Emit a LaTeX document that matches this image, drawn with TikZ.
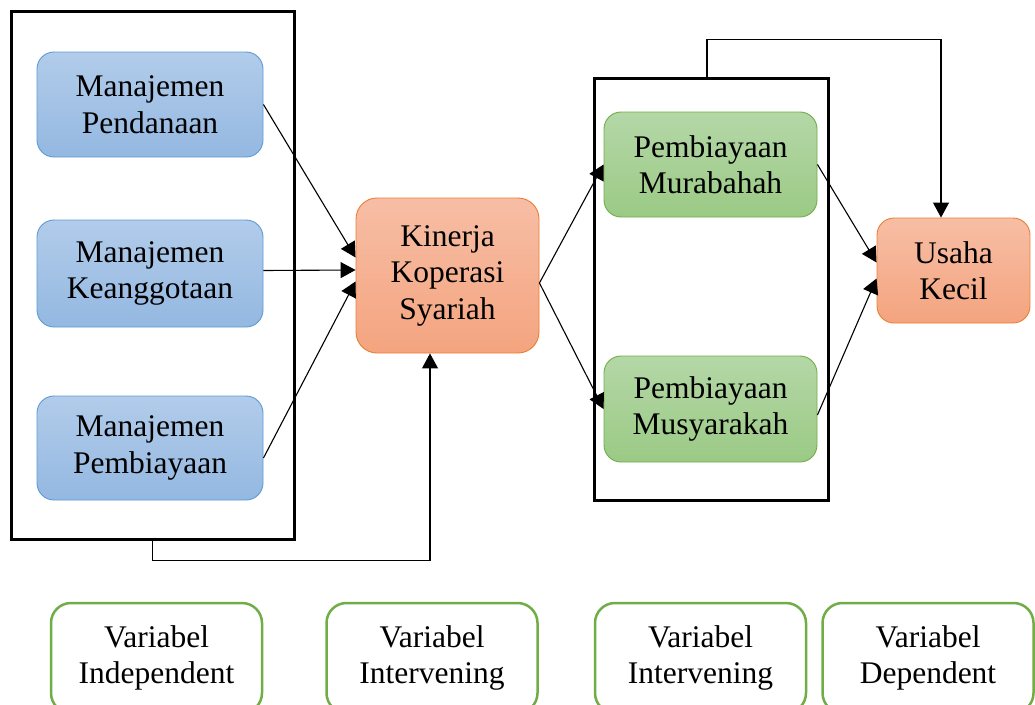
\documentclass[tikz,border=0pt]{standalone}
\usepackage{fontspec}
\setmainfont{Liberation Serif}
\usetikzlibrary{arrows.meta,calc}

\definecolor{bluetop}{HTML}{B2CCEA}
\definecolor{bluebot}{HTML}{94B8E1}
\definecolor{blueline}{HTML}{5B9BD5}
\definecolor{orangetop}{HTML}{F7BEA5}
\definecolor{orangebot}{HTML}{F4A47F}
\definecolor{orangeline}{HTML}{ED7D31}
\definecolor{greentop}{HTML}{B4D7A7}
\definecolor{greenbot}{HTML}{9BCA85}
\definecolor{greenline}{HTML}{70AD47}

\begin{document}
\begin{tikzpicture}[x=1pt,y=-1pt,
  txt/.style={align=center, inner sep=0pt, font=\fontsize{31.5}{36.5}\selectfont},
  roundbox/.style={txt, rounded corners=17pt, line width=0.9pt},
  bluebox/.style={roundbox, draw=blueline, top color=bluetop, bottom color=bluebot},
  orangebox/.style={roundbox, draw=orangeline, top color=orangetop, bottom color=orangebot},
  greenbox/.style={roundbox, draw=greenline, top color=greentop, bottom color=greenbot},
  legendbox/.style={txt, rounded corners=20pt, draw=greenline, fill=white, line width=2.5pt,
    minimum width=211pt, minimum height=110pt},
  frame/.style={draw=black, line width=3pt, inner sep=0pt},
  link/.style={draw=black, line width=1.1pt, -{Triangle[length=15pt,width=16pt]}},
]
\useasboundingbox (0,0) rectangle (1035,704);

% group frames
\node[frame, minimum width=283pt, minimum height=528pt] (lf) at (152.5,275) {};
\node[frame, minimum width=234pt, minimum height=422pt] (rf) at (711,289) {};

% independent variables
\node[bluebox, minimum width=226pt, minimum height=105pt] (b1) at (150,104.5) {Manajemen\\Pendanaan};
\node[bluebox, minimum width=226pt, minimum height=107pt] (b2) at (150,273.5) {Manajemen\\Keanggotaan};
\node[bluebox, minimum width=226pt, minimum height=104pt] (b3) at (150,448) {Manajemen\\Pembiayaan};

% intervening variables
\node[orangebox, minimum width=183pt, minimum height=155pt, rounded corners=21pt] (k) at (447.5,275.5) {Kinerja\\Koperasi\\Syariah};
\node[greenbox, minimum width=213pt, minimum height=105pt] (mur) at (710.5,164.5) {Pembiayaan\\Murabahah};
\node[greenbox, minimum width=213pt, minimum height=106pt] (mus) at (710.5,409) {Pembiayaan\\Musyarakah};

% dependent variable
\node[orangebox, minimum width=153pt, minimum height=105pt] (u) at (953.5,270.5) {Usaha\\Kecil};

% legend
\node[legendbox] (l1) at (156.5,658) {Variabel\\Independent};
\node[legendbox] (l2) at (432,658) {Variabel\\Intervening};
\node[legendbox] (l3) at (700.5,658) {Variabel\\Intervening};
\node[legendbox] (l4) at (928,658) {Variabel\\Dependent};

% connectors
\draw[link] (b1.east) -- ([yshift=18pt]k.west);
\draw[link] ([yshift=3pt]b2.east) -- ([yshift=5.5pt]k.west);
\draw[link] ([yshift=-10pt]b3.east) -- ([yshift=-6pt]k.west);
\draw[link] (lf.south) -- ++(0,20) -| ([xshift=-17.5pt]k.south);

\draw[link] ([yshift=-7.5pt]k.east) -- (mur.west);
\draw[link] ([yshift=-7.5pt]k.east) -- (mus.west);

\draw[link] (mur.east) -- ([yshift=8pt]u.west);
\draw[link] ([yshift=-6pt]mus.east) -- ([yshift=-8pt]u.west);
\draw[link] ([xshift=-4pt]rf.north) -- ++(0,-37) -| ([xshift=-12.5pt]u.north);
\end{tikzpicture}
\end{document}
